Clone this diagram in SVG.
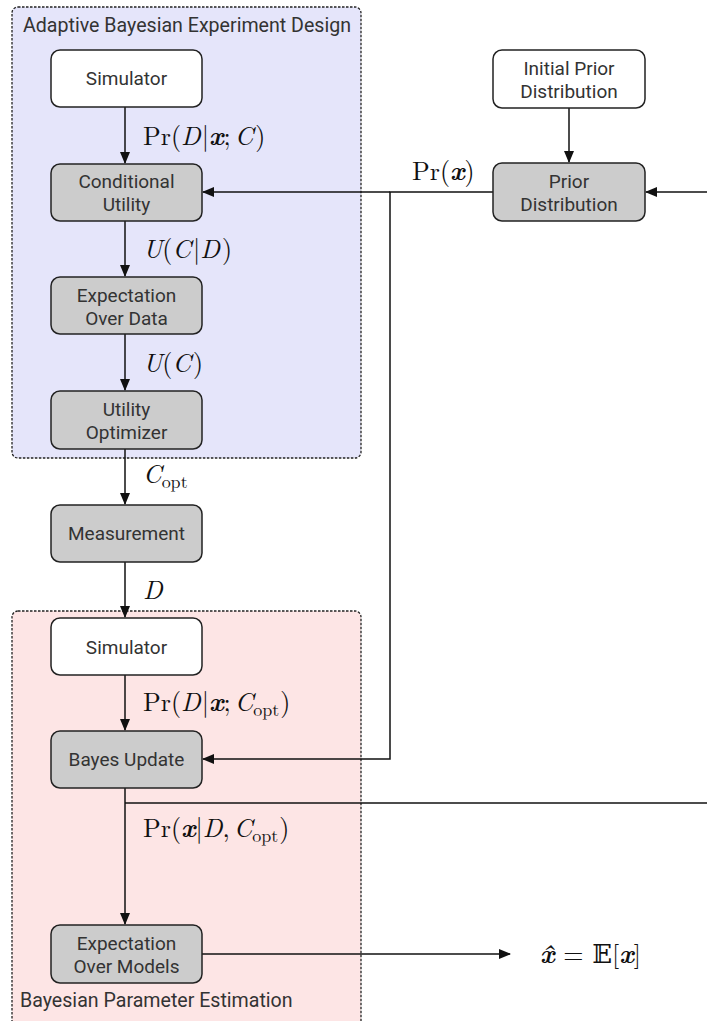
<svg xmlns="http://www.w3.org/2000/svg" width="707" height="1021" viewBox="0 0 707 1021">
<style>
.cont{stroke:#222;stroke-width:1.3;stroke-dasharray:2.5 1.5}
.node rect{stroke:#222;stroke-width:1.5}
.w{fill:#fff}
.g{fill:#cccccc}
.nt{font-family:Roboto,"Liberation Sans",sans-serif;font-size:19px;fill:#333;text-anchor:middle}
.ct{font-family:Roboto,"Liberation Sans",sans-serif;font-size:19.6px;fill:#333}
.ln{stroke:#111;stroke-width:1.5;fill:none}
.m{font-family:"Latin Modern Roman","Liberation Serif","DejaVu Serif",serif;font-size:26px;fill:#111}
.i{font-style:italic}
.b{font-style:italic;font-weight:bold}
.s{font-size:18px}
</style>
<defs>
<marker id="ah" markerWidth="12" markerHeight="10" refX="11" refY="5" orient="auto" markerUnits="userSpaceOnUse">
<path d="M0,0 L12,5 L0,10 Z" fill="#111"/>
</marker>
</defs>
<rect width="707" height="1021" fill="#fff"/>
<g id="container-abed">
<rect class="cont" x="12" y="7" width="349" height="451" rx="6" fill="#e5e5fa"/>
<text class="ct" x="23" y="32">Adaptive Bayesian Experiment Design</text>
</g>
<g id="container-bpe">
<rect class="cont" x="12" y="611" width="349" height="430" rx="6" fill="#fde5e5"/>
<text class="ct" x="20" y="1007">Bayesian Parameter Estimation</text>
</g>
<g id="connectors">
<line class="ln" x1="125" y1="107" x2="125" y2="163" marker-end="url(#ah)"/>
<line class="ln" x1="125" y1="221" x2="125" y2="276" marker-end="url(#ah)"/>
<line class="ln" x1="125" y1="334" x2="125" y2="390" marker-end="url(#ah)"/>
<line class="ln" x1="125" y1="449" x2="125" y2="504" marker-end="url(#ah)"/>
<line class="ln" x1="125" y1="562" x2="125" y2="617" marker-end="url(#ah)"/>
<line class="ln" x1="125" y1="675" x2="125" y2="730" marker-end="url(#ah)"/>
<line class="ln" x1="125" y1="788" x2="125" y2="924" marker-end="url(#ah)"/>
<line class="ln" x1="125" y1="803" x2="707" y2="803"/>
<line class="ln" x1="569" y1="108" x2="569" y2="162" marker-end="url(#ah)"/>
<line class="ln" x1="707" y1="192" x2="646" y2="192" marker-end="url(#ah)"/>
<polyline class="ln" points="493,192 390,192 390,759 203,759" marker-end="url(#ah)"/>
<line class="ln" x1="390" y1="192" x2="203" y2="192" marker-end="url(#ah)"/>
<line class="ln" x1="202" y1="954" x2="510" y2="954" marker-end="url(#ah)"/>
</g>
<g id="labels">
<text class="m" x="143" y="145">Pr(<tspan class="i">D</tspan><tspan dx="1">|</tspan><tspan class="b">x</tspan>;<tspan class="i" dx="4">C</tspan><tspan dx="2">)</tspan></text>
<text class="m" x="143" y="258"><tspan class="i">U</tspan>(<tspan class="i">C</tspan><tspan dx="2">|</tspan><tspan class="i">D</tspan><tspan dx="2">)</tspan></text>
<text class="m" x="143" y="372"><tspan class="i">U</tspan>(<tspan class="i">C</tspan><tspan dx="2">)</tspan></text>
<text class="m" x="143" y="483"><tspan class="i">C</tspan><tspan class="s" dy="5">opt</tspan></text>
<text class="m" x="143" y="599"><tspan class="i">D</tspan></text>
<text class="m" x="143" y="711">Pr(<tspan class="i">D</tspan><tspan dx="1">|</tspan><tspan class="b">x</tspan>;<tspan class="i" dx="4">C</tspan><tspan class="s" dy="5">opt</tspan><tspan dy="-5" dx="1">)</tspan></text>
<text class="m" x="143" y="837">Pr(<tspan class="b">x</tspan>|<tspan class="i">D</tspan>,<tspan class="i" dx="4">C</tspan><tspan class="s" dy="5">opt</tspan><tspan dy="-5" dx="1">)</tspan></text>
<text class="m" x="412" y="180">Pr(<tspan class="b">x</tspan>)</text>
<text class="m" x="540" y="963"><tspan class="b">x̂</tspan> = 𝔼[<tspan class="b">x</tspan>]</text>
</g>
<g id="sim1" class="node"><rect class="w" x="51" y="50" width="151" height="57" rx="9"/><text class="nt" x="126.5" y="85">Simulator</text></g>
<g id="cond-utility" class="node"><rect class="g" x="51" y="164" width="151" height="57" rx="9"/><text class="nt" x="126.5" y="188">Conditional</text><text class="nt" x="126.5" y="211">Utility</text></g>
<g id="exp-data" class="node"><rect class="g" x="51" y="277" width="151" height="57" rx="9"/><text class="nt" x="126.5" y="302">Expectation</text><text class="nt" x="126.5" y="325">Over Data</text></g>
<g id="util-opt" class="node"><rect class="g" x="51" y="391" width="151" height="58" rx="9"/><text class="nt" x="126.5" y="416">Utility</text><text class="nt" x="126.5" y="439">Optimizer</text></g>
<g id="measurement" class="node"><rect class="g" x="51" y="505" width="151" height="57" rx="9"/><text class="nt" x="126.5" y="540">Measurement</text></g>
<g id="sim2" class="node"><rect class="w" x="51" y="618" width="151" height="57" rx="9"/><text class="nt" x="126.5" y="654">Simulator</text></g>
<g id="bayes-update" class="node"><rect class="g" x="51" y="731" width="151" height="57" rx="9"/><text class="nt" x="126.5" y="766">Bayes Update</text></g>
<g id="exp-models" class="node"><rect class="g" x="51" y="925" width="151" height="58" rx="9"/><text class="nt" x="126.5" y="950">Expectation</text><text class="nt" x="126.5" y="973">Over Models</text></g>
<g id="init-prior" class="node"><rect class="w" x="493" y="50" width="152" height="58" rx="9"/><text class="nt" x="569" y="75">Initial Prior</text><text class="nt" x="569" y="98">Distribution</text></g>
<g id="prior" class="node"><rect class="g" x="493" y="163" width="152" height="58" rx="9"/><text class="nt" x="569" y="188">Prior</text><text class="nt" x="569" y="211">Distribution</text></g>
</svg>
